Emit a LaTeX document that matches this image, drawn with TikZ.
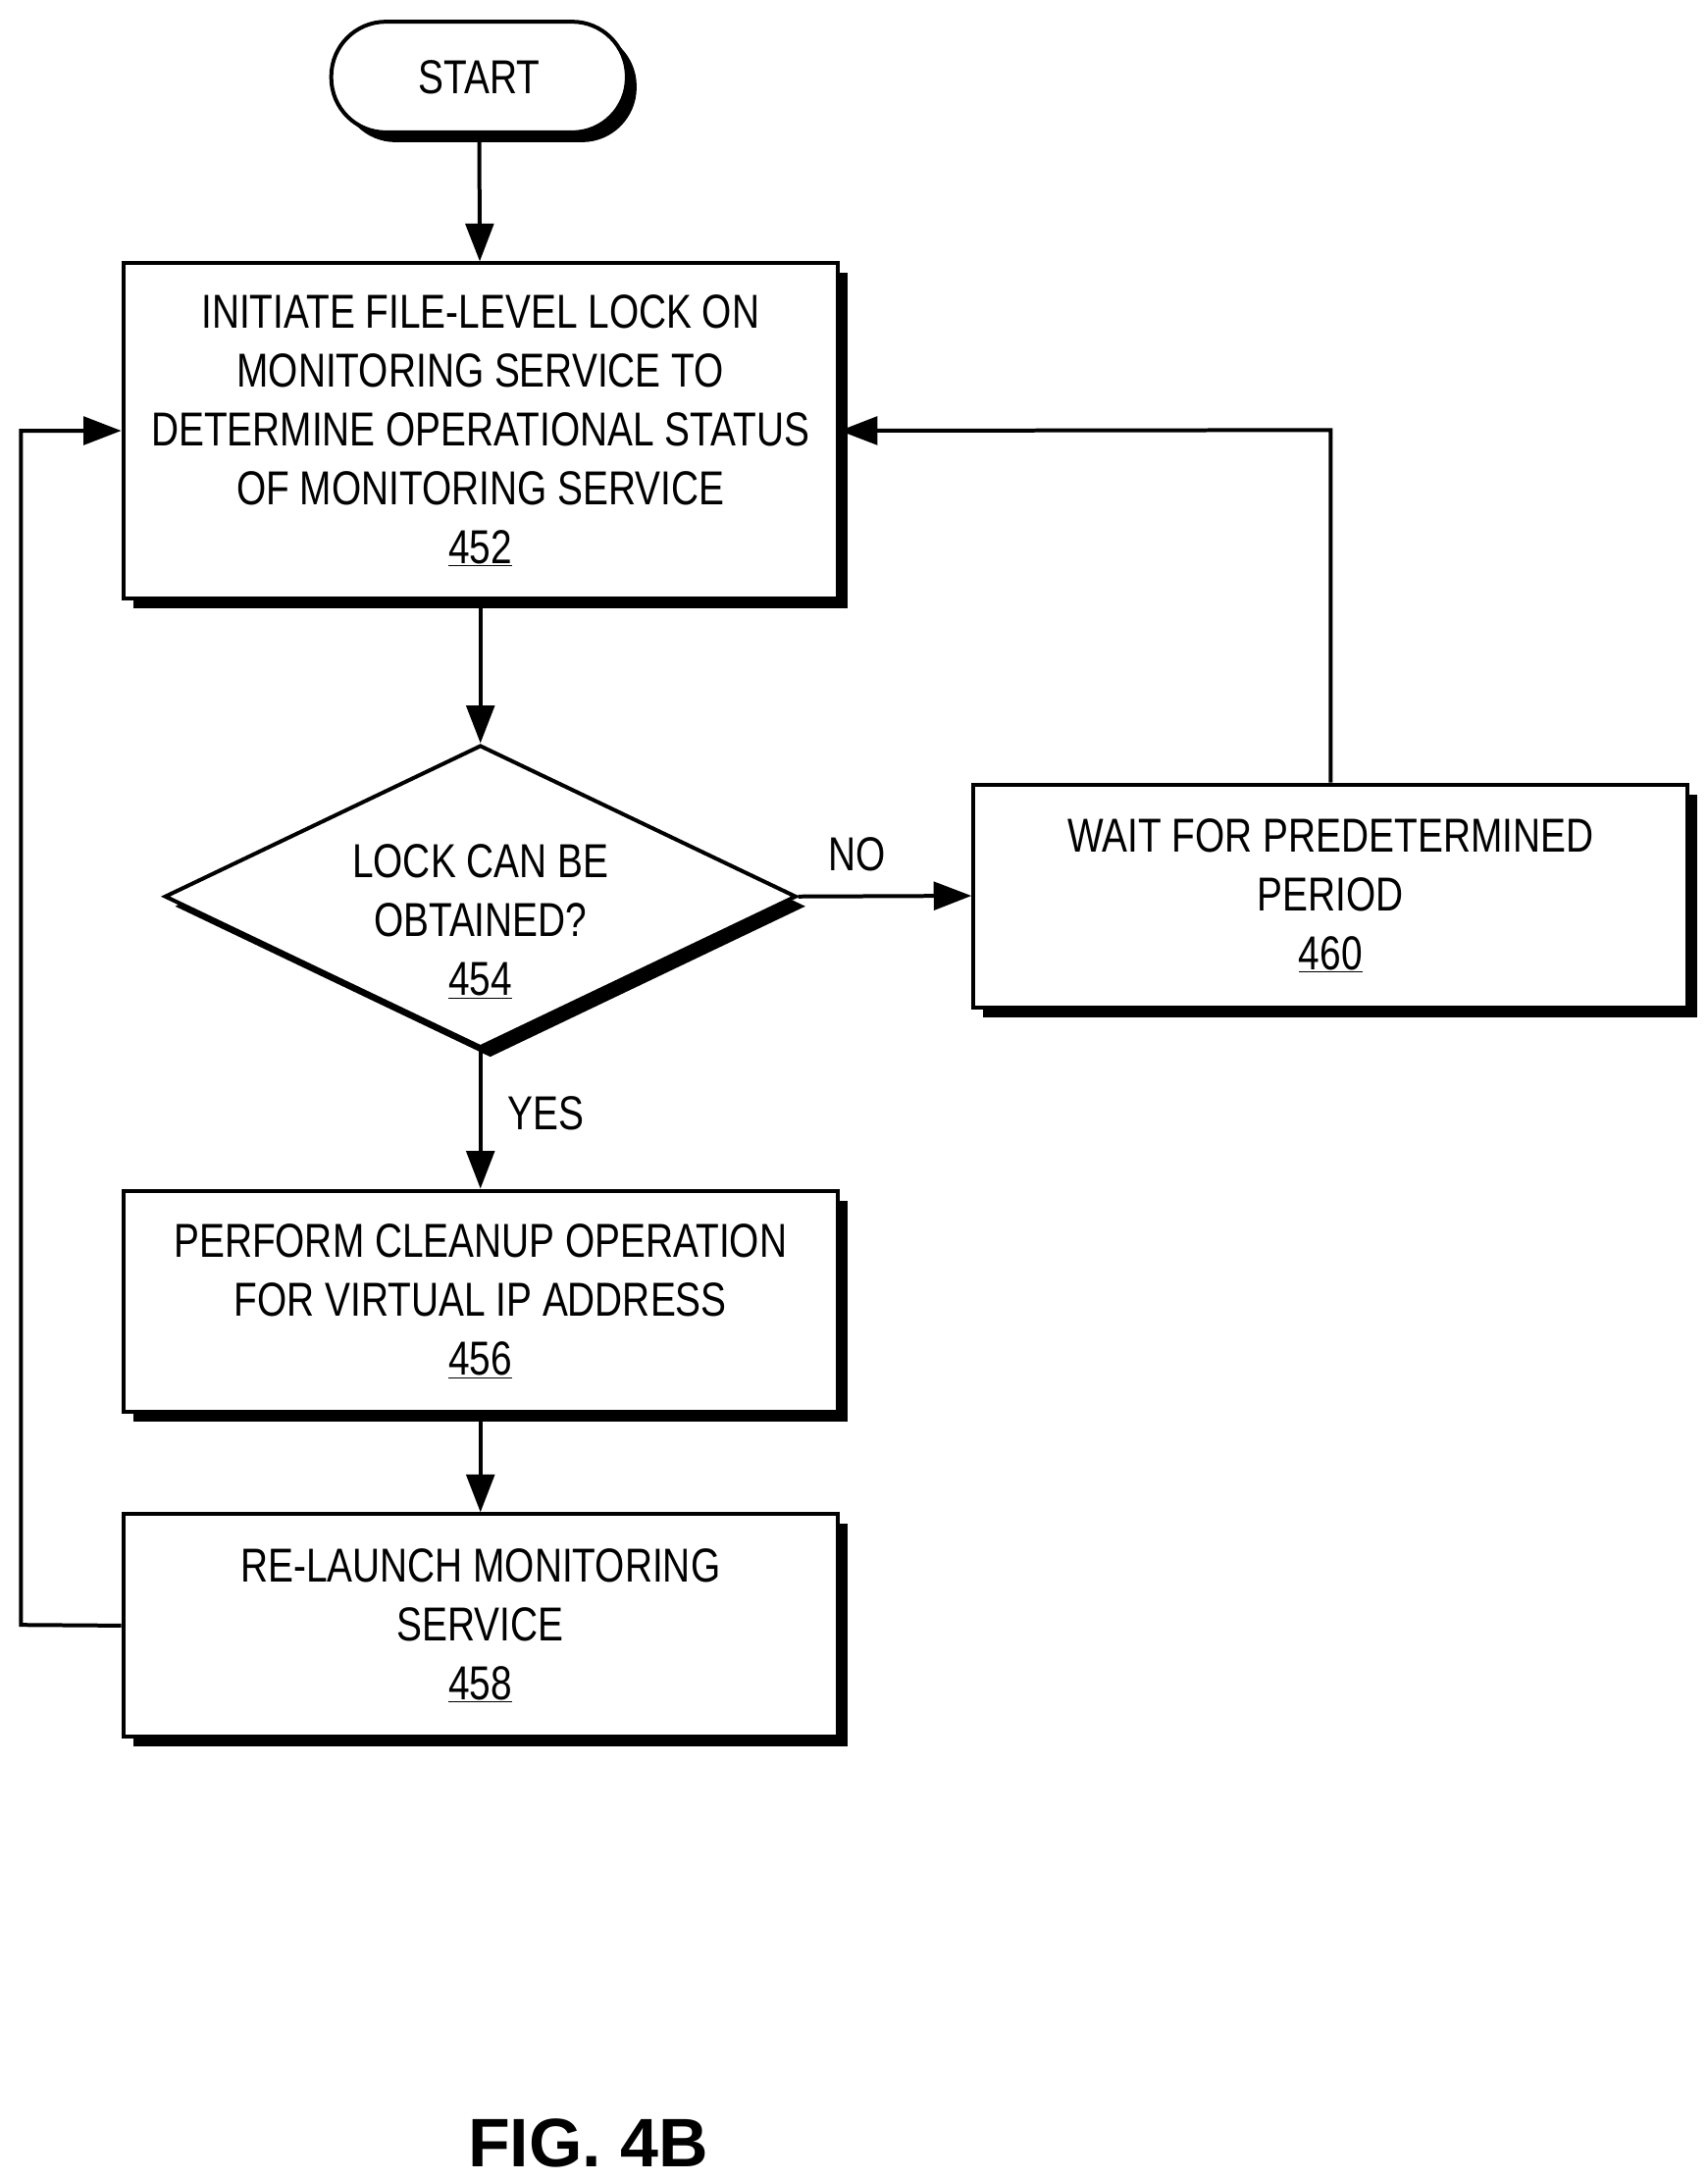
\documentclass[tikz,border=0pt]{standalone}
\usepackage{fontspec}
\setmainfont{Liberation Sans}[FakeStretch=0.80]
\newfontfamily\figfont{Liberation Sans}
\usetikzlibrary{shapes.geometric,arrows.meta}
\begin{document}
\begin{tikzpicture}[x=1pt,y=-1pt,
  every node/.style={font=\fontsize{34}{42}\selectfont, align=center},
  shad/.style={preaction={fill=black, transform canvas={shift={(7,7)}}}},
  box/.style={draw, line width=2.8pt, fill=white, shad, inner sep=0pt},
  ln/.style={line width=2.8pt},
  arr/.style={ln, -{Triangle[length=27pt,width=20pt]}}]
\useasboundingbox (0,0) rectangle (1219,1557);
\node[box, rounded corners=39pt, minimum width=211pt, minimum height=79pt] (start) at (342,55) {START};
\node[box, minimum width=510pt, minimum height=239pt] (b452) at (343,307.5) {INITIATE FILE-LEVEL LOCK ON\\MONITORING SERVICE TO\\DETERMINE OPERATIONAL STATUS\\OF MONITORING SERVICE\\\underline{452}};
\node[box, diamond, aspect=2.09, minimum width=451pt, minimum height=216pt] (d454) at (343,640) {};
\node at (343,658) {LOCK CAN BE\\OBTAINED?\\\underline{454}};
\node[box, minimum width=510pt, minimum height=159pt] (b460) at (950,639.5) {WAIT FOR PREDETERMINED\\PERIOD\\\underline{460}};
\node[box, minimum width=510pt, minimum height=158pt] (b456) at (343,929) {PERFORM CLEANUP OPERATION\\FOR VIRTUAL IP ADDRESS\\\underline{456}};
\node[box, minimum width=510pt, minimum height=159pt] (b458) at (343,1160.5) {RE-LAUNCH MONITORING\\SERVICE\\\underline{458}};
\coordinate (lc) at (15,1160);
\coordinate (rc) at (950,307);
\draw[arr] (start) -- (b452);
\draw[arr] (b452) -- (d454);
\draw[arr] (d454) -- (b456);
\draw[arr] (b456) -- (b458);
\draw[arr] (d454.east) -- (b460.west);
\draw[arr] (b458.west) -- (lc) |- (b452.west);
\draw[arr] (b460.north) -- (rc) -- (b452.east);
\node at (612,610) {NO};
\node at (390,795) {YES};
\node[font=\figfont\bfseries\fontsize{49}{56}\selectfont] (fig) at (420,1530) {FIG. 4B};
\end{tikzpicture}
\end{document}
